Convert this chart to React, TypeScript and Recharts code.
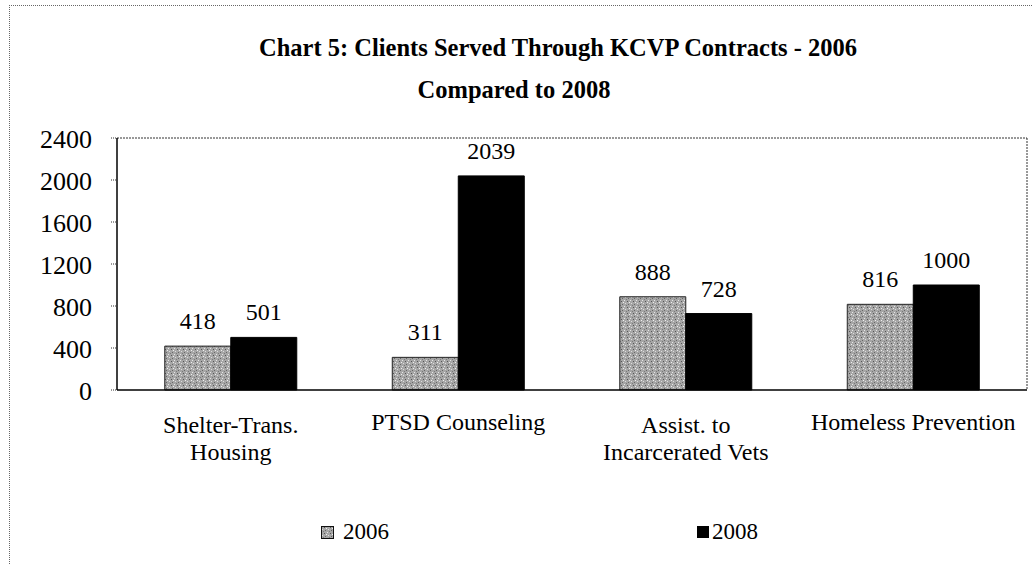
import React from "react";
import { BarChart, Bar, XAxis, YAxis, CartesianGrid, LabelList, Legend } from "recharts";

const categories = ["Shelter-Trans. Housing", "PTSD Counseling", "Assist. to Incarcerated Vets", "Homeless Prevention"];
const tickLines = [["Shelter-Trans.", "Housing"], ["PTSD Counseling"], ["Assist. to", "Incarcerated Vets"], ["Homeless Prevention"]];
const values2006 = [418, 311, 888, 816];
const values2008 = [501, 2039, 728, 1000];
const yTicks = [0, 400, 800, 1200, 1600, 2000, 2400];
const seriesNames = ["2006", "2008"];
const titleLines = ["Chart 5: Clients Served Through KCVP Contracts - 2006", "Compared to 2008"];

const data = categories.map((c, i) => ({ name: c, idx: i, v2006: values2006[i], v2008: values2008[i] }));

const FONT = '"Liberation Serif", "Times New Roman", serif';

const CatTick = (props: any) => {
  const { x, y, payload, index } = props;
  const lines = tickLines[index] || [payload.value];
  const single = lines.length === 1;
  return (
    <text x={x} y={y} textAnchor="middle" fontFamily={FONT} fontSize={24} fill="#000" style={{ fontFamily: FONT }}>
      {lines.map((l: string, i: number) => (
        <tspan key={i} x={x} dy={i === 0 ? (single ? 32 : 35) : 27}>{l}</tspan>
      ))}
    </text>
  );
};

const ValueLabel = (props: any) => {
  const { x, y, width, value } = props;
  return (
    <text x={x + width / 2} y={y - 17} textAnchor="middle" fontSize={24} fill="#000" style={{ fontFamily: FONT }}>
      {value}
    </text>
  );
};

const LegendContent = () => (
  <div style={{ position: "relative", width: 1032, height: 30, fontFamily: FONT, fontSize: 23 }}>
    <div style={{ position: "absolute", left: 321, top: 0, display: "flex", alignItems: "center" }}>
      <svg width={13} height={13} style={{ marginRight: 9 }}>
        <rect x={0.5} y={0.5} width={12} height={12} fill="url(#speckle)" stroke="#111" strokeWidth={1} />
      </svg>
      <span>{seriesNames[0]}</span>
    </div>
    <div style={{ position: "absolute", left: 697, top: 0, display: "flex", alignItems: "center" }}>
      <svg width={12} height={12} style={{ marginRight: 3 }}>
        <rect x={0} y={0} width={12} height={12} fill="#000" />
      </svg>
      <span>{seriesNames[1]}</span>
    </div>
  </div>
);

export default function App() {
  return (
    <div style={{ position: "absolute", left: 0, top: 0, width: 1032, height: 565, background: "#fff", overflow: "hidden" }}>
      <div style={{ position: "absolute", left: 9, top: 5, width: 1040, height: 600, borderLeft: "1px dotted #666", borderTop: "1px dotted #666" }} />
      <div style={{ position: "absolute", left: 558, top: 33, transform: "translateX(-50%)", whiteSpace: "nowrap", fontFamily: FONT, fontWeight: "bold", fontSize: 24.5, lineHeight: "30px" }}>{titleLines[0]}</div>
      <div style={{ position: "absolute", left: 514, top: 75, transform: "translateX(-50%)", whiteSpace: "nowrap", fontFamily: FONT, fontWeight: "bold", fontSize: 24.5, lineHeight: "30px" }}>{titleLines[1]}</div>
      <BarChart width={1032} height={565} data={data} margin={{ top: 138, right: 5, bottom: 65, left: 0 }} barCategoryGap="21%" barGap={0}>
        <defs>
          <pattern id="speckle" width="6" height="6" patternUnits="userSpaceOnUse">
            <rect width="6" height="6" fill="#a6a6a6" />
            <rect x="0" y="0" width="1" height="1" fill="#e6e6e6" />
            <rect x="3" y="1" width="1" height="1" fill="#555" />
            <rect x="1" y="3" width="1" height="1" fill="#dcdcdc" />
            <rect x="4" y="4" width="1" height="1" fill="#666" />
            <rect x="5" y="2" width="1" height="1" fill="#efefef" />
            <rect x="2" y="5" width="1" height="1" fill="#7a7a7a" />
          </pattern>
        </defs>
        <CartesianGrid
          stroke="#333"
          strokeDasharray="2 1"
          horizontalCoordinatesGenerator={({ offset }: any) => [offset.top]}
          verticalCoordinatesGenerator={({ offset }: any) => [offset.left + offset.width]}
        />
        <XAxis
          dataKey="name"
          interval={0}
          height={80}
          axisLine={{ stroke: "#000", strokeWidth: 1.5 }}
          tickLine={false}
          tick={<CatTick />}
        />
        <YAxis
          width={117}
          domain={[0, 2400]}
          ticks={yTicks}
          interval={0}
          axisLine={{ stroke: "#000", strokeWidth: 1.5 }}
          tickLine={{ stroke: "#333", strokeDasharray: "1 1" }}
          tickSize={6}
          tickMargin={19}
          tick={{ fontFamily: FONT, fontSize: 26, fill: "#000", dy: 1 }}
        />
        <Legend verticalAlign="bottom" wrapperStyle={{ top: 519, left: 0, width: 1032 }} content={<LegendContent />} />
        <Bar dataKey="v2006" name={seriesNames[0]} fill="url(#speckle)" stroke="#222" strokeWidth={1} isAnimationActive={false}>
          <LabelList dataKey="v2006" content={<ValueLabel />} />
        </Bar>
        <Bar dataKey="v2008" name={seriesNames[1]} fill="#000" stroke="#000" strokeWidth={1} isAnimationActive={false}>
          <LabelList dataKey="v2008" content={<ValueLabel />} />
        </Bar>
      </BarChart>
    </div>
  );
}
